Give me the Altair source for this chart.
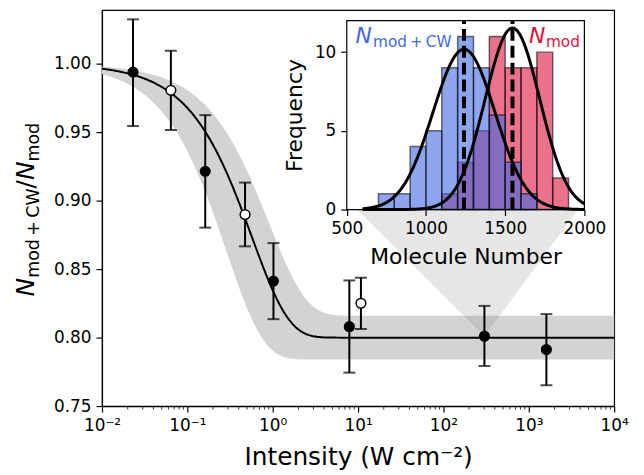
import altair as alt
import numpy as np
import pandas as pd

FONT = "DejaVu Sans"

# ---------------- main panel data ----------------
intensity = [0.0231, 0.0641, 0.162, 0.474, 1.02, 7.9, 10.8, 302, 1607]
ratio     = [0.994, 0.9807, 0.9215, 0.8899, 0.8413, 0.808, 0.8251, 0.801, 0.7913]
ratio_hi  = [1.0326, 1.0097, 0.9626, 0.9133, 0.8691, 0.8418, 0.8438, 0.8232, 0.8172]
ratio_lo  = [0.9546, 0.9517, 0.8804, 0.8667, 0.8135, 0.7744, 0.8063, 0.7793, 0.7652]
marker    = ["filled", "open", "filled", "open", "filled", "filled", "open", "filled", "filled"]

# saturation fit  y = 1 - A (1 - exp(-I / Isat))  and its uncertainty band
fit_A, fit_Isat = 0.20, 0.57
band_hi_A, band_hi_Isat = 0.184, 0.906
band_lo_A, band_lo_Isat = 0.216, 0.286

x_domain = [1e-2, 1e4]
y_domain = [0.75, 1.0394]
x_tick_values = [1e-2, 1e-1, 1e0, 1e1, 1e2, 1e3, 1e4]
x_tick_labels = ["10⁻²", "10⁻¹", "10⁰", "10¹", "10²", "10³", "10⁴"]
y_tick_values = [0.75, 0.80, 0.85, 0.90, 0.95, 1.00]
minor_ticks = [m * 10.0 ** k for k in range(-2, 4) for m in range(2, 10)]

# zoom wedge from the inset down to the 300 W cm^-2 point
wedge_x = [9.36, 302, 3880]
wedge_top = [0.8945, 0.8945, 0.8945]
wedge_bottom = [0.8945, 0.801, 0.8945]

# ---------------- inset histogram data ----------------
bin_width = 100
cw_bin_start = [700, 800, 900, 1000, 1100, 1200, 1300, 1400, 1500, 1600]
cw_counts = [1, 1, 4, 5, 9, 11, 9, 6, 3, 1]
mod_bin_start = [1100, 1200, 1300, 1400, 1500, 1600, 1700, 1800]
mod_counts = [1, 3, 5, 11, 9, 9, 10, 2]
n_molecules = 50
cw_mean, cw_sigma = 1240, 196
mod_mean, mod_sigma = 1546, 173
gauss_range = [600, 2000]
inset_x_domain = [500, 2000]
inset_y_domain = [0, 12]
inset_x_ticks = [500, 1000, 1500, 2000]
inset_y_ticks = [0, 5, 10]

BLUE = "#4169e1"
RED = "#dc143c"

# ---------------- layout ----------------
W, H = 516, 399
INSET_X_RANGE = [246.6, 486.0]
INSET_Y_RANGE = [201.0, 10.7]

# ---------------- tables ----------------
I_grid = np.logspace(np.log10(x_domain[0]), np.log10(x_domain[1]), 500)


def saturation(I, A, Is):
    return 1 - A * (1 - np.exp(-I / Is))


curve_df = pd.DataFrame({
    "I": I_grid,
    "fit": saturation(I_grid, fit_A, fit_Isat),
    "hi": saturation(I_grid, band_hi_A, band_hi_Isat),
    "lo": saturation(I_grid, band_lo_A, band_lo_Isat),
})
pts_df = pd.DataFrame({"I": intensity, "R": ratio, "hi": ratio_hi, "lo": ratio_lo, "marker": marker})
wedge_df = pd.DataFrame({"x": wedge_x, "top": wedge_top, "bottom": wedge_bottom})
minor_df = pd.DataFrame({"v": minor_ticks})

xs = alt.Scale(type="log", domain=x_domain, nice=False)
ys = alt.Scale(domain=y_domain, nice=False, zero=False)

label_expr = " : ".join(
    f"datum.value == {v:g} ? '{l}'" for v, l in zip(x_tick_values, x_tick_labels)
) + " : ''"

x_axis = alt.Axis(orient="bottom", values=x_tick_values, labelExpr=label_expr,
                  title="Intensity (W cm⁻²)",
                  tickSize=6, labelFontSize=17, labelPadding=6, labelFlush=False, labelOverlap=False,
                  titleFontSize=25, titleX=W / 2, titleY=59, titleBaseline="alphabetic",
                  titleAlign="center")
y_axis = alt.Axis(orient="left", values=y_tick_values, format=".2f", title=None, tickSize=6,
                  labelFontSize=17, labelPadding=5)

band = alt.Chart(curve_df).mark_area(color="#d3d3d3", opacity=1).encode(
    x=alt.X("I:Q", scale=xs, axis=x_axis),
    y=alt.Y("hi:Q", scale=ys, axis=y_axis),
    y2="lo:Q",
)
wedge = alt.Chart(wedge_df).mark_area(color="#808080", opacity=0.2).encode(
    x=alt.X("x:Q", scale=xs, axis=None),
    y=alt.Y("top:Q", scale=ys, axis=None),
    y2="bottom:Q",
)
fit_line = alt.Chart(curve_df).mark_line(color="black", strokeWidth=2).encode(
    x=alt.X("I:Q", scale=xs, axis=None),
    y=alt.Y("fit:Q", scale=ys, axis=None),
)
err = alt.Chart(pts_df).mark_rule(color="black", strokeWidth=2).encode(
    x=alt.X("I:Q", scale=xs, axis=None),
    y=alt.Y("lo:Q", scale=ys, axis=None),
    y2="hi:Q",
)
cap_hi = alt.Chart(pts_df).mark_tick(color="black", orient="horizontal", size=12, thickness=2).encode(
    x=alt.X("I:Q", scale=xs, axis=None),
    y=alt.Y("hi:Q", scale=ys, axis=None),
)
cap_lo = alt.Chart(pts_df).mark_tick(color="black", orient="horizontal", size=12, thickness=2).encode(
    x=alt.X("I:Q", scale=xs, axis=None),
    y=alt.Y("lo:Q", scale=ys, axis=None),
)
points = alt.Chart(pts_df).mark_point(shape="circle", filled=True, size=95, stroke="black",
                                      strokeWidth=1.5, opacity=1).encode(
    x=alt.X("I:Q", scale=xs, axis=None),
    y=alt.Y("R:Q", scale=ys, axis=None),
    fill=alt.Fill("marker:N", scale=alt.Scale(domain=["filled", "open"], range=["black", "white"]),
                  legend=None),
)
minor = alt.Chart(minor_df).mark_rule(color="black", strokeWidth=0.8).encode(
    x=alt.X("v:Q", scale=xs, axis=None),
    y=alt.value(H),
    y2=alt.value(H + 3.5),
)

# y-axis title  N_{mod + CW} / N_{mod}, built from rotated pieces
YLAB_X, YLAB_Y = -68.5, 288.7
ylab_segments = [
    ("N", 25, "italic", 0.0, 0.0),
    ("mod\u2009+\u2009CW", 17.5, "normal", 19.0, 5.5),
    ("/", 25, "normal", 109.0, 0.0),
    ("N", 25, "italic", 117.4, 0.0),
    ("mod", 17.5, "normal", 136.1, 5.5),
]
ylab_layers = []
for txt, fs, style, along, perp in ylab_segments:
    ylab_layers.append(
        alt.Chart(pd.DataFrame({"t": [txt]})).mark_text(
            angle=270, align="left", baseline="alphabetic", font=FONT, fontSize=fs,
            fontStyle=style, color="black"
        ).encode(x=alt.value(YLAB_X + perp), y=alt.value(YLAB_Y - along), text="t:N")
    )

main_layers = [band, wedge, fit_line, err, cap_hi, cap_lo, points, minor] + ylab_layers

# ---------------- inset ----------------
xi = alt.Scale(domain=inset_x_domain, range=INSET_X_RANGE, nice=False, zero=False)
yi = alt.Scale(domain=inset_y_domain, range=INSET_Y_RANGE, nice=False, zero=False)

xi_axis = alt.Axis(orient="bottom", offset=-(H - INSET_Y_RANGE[0]), values=inset_x_ticks,
                   format="d", title="Molecule Number", domain=False, tickSize=6, labelFontSize=17,
                   labelPadding=5, labelFlush=False, labelOverlap=False, titleFontSize=22,
                   titleX=(INSET_X_RANGE[0] + INSET_X_RANGE[1]) / 2, titleY=54,
                   titleBaseline="alphabetic", titleAlign="center", zindex=1)
yi_axis = alt.Axis(orient="left", offset=-INSET_X_RANGE[0], values=inset_y_ticks, format="d",
                   title="Frequency", domain=False, tickSize=6, labelFontSize=17,
                   labelPadding=5, titleFontSize=22, titleAngle=270,
                   titleX=-46, titleY=(INSET_Y_RANGE[0] + INSET_Y_RANGE[1]) / 2,
                   titleBaseline="alphabetic", titleAlign="center", zindex=1)

frame_df = pd.DataFrame({"x0": [inset_x_domain[0]], "x1": [inset_x_domain[1]],
                         "y0": [inset_y_domain[0]], "y1": [inset_y_domain[1]]})
inset_bg = alt.Chart(frame_df).mark_rect(fill="white").encode(
    x=alt.X("x0:Q", scale=xi, axis=xi_axis), x2="x1:Q",
    y=alt.Y("y0:Q", scale=yi, axis=yi_axis), y2="y1:Q",
)
inset_frame = alt.Chart(frame_df).mark_rect(fillOpacity=0, stroke="black", strokeWidth=1.2).encode(
    x=alt.X("x0:Q", scale=xi, axis=None), x2="x1:Q",
    y=alt.Y("y0:Q", scale=yi, axis=None), y2="y1:Q",
)

mod_df = pd.DataFrame({"start": mod_bin_start, "end": [s + bin_width for s in mod_bin_start],
                       "count": mod_counts, "base": 0})
cw_df = pd.DataFrame({"start": cw_bin_start, "end": [s + bin_width for s in cw_bin_start],
                      "count": cw_counts, "base": 0})


def hist(df, color):
    return alt.Chart(df).mark_rect(fill=color, fillOpacity=0.6, stroke="black", strokeOpacity=0.55,
                                   strokeWidth=1.5).encode(
        x=alt.X("start:Q", scale=xi, axis=None), x2="end:Q",
        y=alt.Y("count:Q", scale=yi, axis=None), y2="base:Q",
    )


g_x = np.linspace(gauss_range[0], gauss_range[1], 400)


def gauss(mean, sigma):
    amp = n_molecules * bin_width / (sigma * np.sqrt(2 * np.pi))
    df = pd.DataFrame({"x": g_x, "y": amp * np.exp(-0.5 * ((g_x - mean) / sigma) ** 2)})
    return alt.Chart(df).mark_line(color="black", strokeWidth=3).encode(
        x=alt.X("x:Q", scale=xi, axis=None), y=alt.Y("y:Q", scale=yi, axis=None)
    )


dash_df = pd.DataFrame({"m": [cw_mean, mod_mean], "y0": inset_y_domain[0], "y1": inset_y_domain[1]})
dashes = alt.Chart(dash_df).mark_rule(color="black", strokeWidth=4, strokeDash=[12, 5]).encode(
    x=alt.X("m:Q", scale=xi, axis=None), y=alt.Y("y0:Q", scale=yi, axis=None), y2="y1:Q"
)

lab_df = pd.DataFrame({"x": [555, 1651], "y": [10.6, 10.6]})
label_layers = []
for i, (sub, color, sub_dx) in enumerate([("mod\u2009+\u2009CW", BLUE, 17.7), ("mod", RED, 17.0)]):
    d = lab_df.iloc[[i]]
    label_layers.append(alt.Chart(d).mark_text(
        text="N", align="left", baseline="alphabetic", font=FONT, fontSize=22, fontStyle="italic",
        color=color).encode(x=alt.X("x:Q", scale=xi, axis=None), y=alt.Y("y:Q", scale=yi, axis=None)))
    label_layers.append(alt.Chart(d).mark_text(
        text=sub, align="left", baseline="alphabetic", font=FONT, fontSize=15.4, dx=sub_dx, dy=4.5,
        color=color).encode(x=alt.X("x:Q", scale=xi, axis=None), y=alt.Y("y:Q", scale=yi, axis=None)))

inset_layers = [inset_bg, hist(mod_df, RED), hist(cw_df, BLUE),
                gauss(cw_mean, cw_sigma), gauss(mod_mean, mod_sigma), dashes] + label_layers + [inset_frame]

chart = alt.layer(*main_layers, *inset_layers).resolve_scale(
    x="independent", y="independent"
).properties(
    width=W, height=H,
    padding={"left": 94.7, "top": 0.3, "right": 22, "bottom": 66},
    autosize=alt.AutoSizeParams(type="none"),
).configure_view(stroke="black", strokeWidth=1.2).configure_axis(
    labelFont=FONT, titleFont=FONT, labelColor="black", titleColor="black", tickColor="black",
    domainColor="black", domainWidth=1.2, tickWidth=1.2, titleFontWeight="normal", grid=False,
)

chart.save("out.html", embed_options={"renderer": "svg", "actions": False})
